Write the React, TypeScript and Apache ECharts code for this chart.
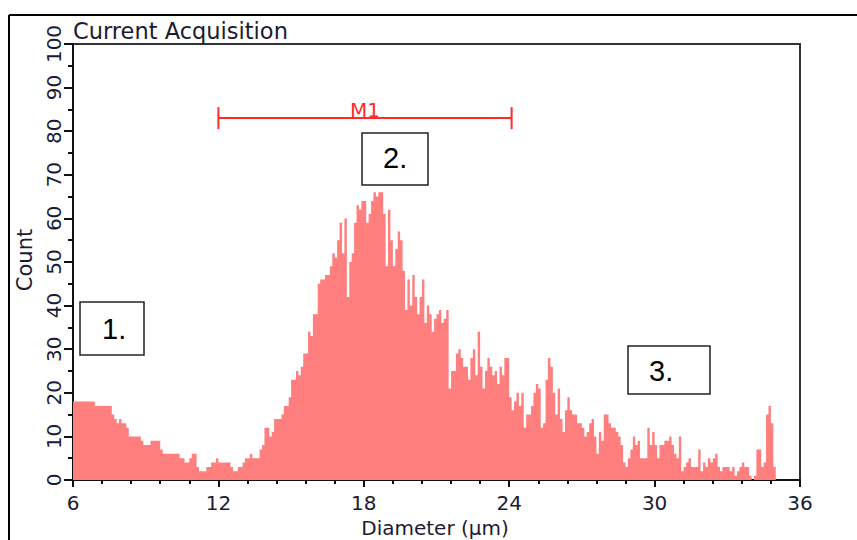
import React, { useEffect, useRef } from "react";
import * as echarts from "echarts";

// Histogram bins (diameter, µm)
const BIN_START = 6;
const BIN_WIDTH = 0.1;
const counts: number[] = [
  18, 18, 18, 18, 18, 18, 18, 18, 18,
  17, 17, 17, 17, 17, 17, 17,
  15, 14, 13, 14, 13, 13, 12,
  10, 10, 10, 10, 10,
  9, 8, 8, 8,
  9, 9, 9, 9, 7, 6,
  6, 6, 6, 6, 6, 6,
  5, 5, 4, 4, 5, 6, 6,
  3, 2, 2, 2, 3, 3,
  4, 4, 5, 4, 4, 4, 4, 4,
  3, 2, 2, 3, 3, 4, 5, 5,
  6, 5, 5, 5, 7, 8,
  12, 12, 10, 11, 14, 14, 14, 15, 17, 17,
  19, 23, 23, 25, 24, 26, 29, 29, 34, 33,
  38, 38, 45, 46, 46, 47, 47, 49, 52, 51,
  55, 59, 52, 60, 42, 50, 52, 59, 63, 62,
  64, 64, 59, 61, 64, 66, 65, 66, 66, 61,
  49, 62, 55, 49, 53, 57, 55, 48, 39, 46,
  40, 47, 42, 38, 42, 46, 36, 40, 38, 34,
  37, 38, 39, 36, 37, 39, 21, 25, 25, 29,
  30, 28, 26, 26, 23, 28, 30, 24, 34, 26,
  21, 25, 28, 26, 24, 25, 22, 26, 24, 28,
  28, 19, 16, 18, 20, 17, 20, 12, 15, 15,
  17, 20, 22, 21, 12, 13, 23, 28, 26, 20,
  15, 21, 14, 11, 16, 19, 16, 15, 15, 13,
  13, 12, 10, 11, 13, 14, 10, 6, 11, 9,
  15, 15, 13, 12, 12, 11, 10, 8, 4, 3,
  5, 7, 10, 8, 9, 5, 5, 5, 12, 8,
  11, 8, 5, 8, 8, 9, 9, 10, 8, 6,
  5, 10, 2, 3, 4, 5, 3, 3, 3, 7,
  2, 4, 3, 5, 4, 5, 6, 3, 2, 3,
  3, 3, 2, 3, 1, 2, 3, 4, 3, 3,
  1, 0, 1, 7, 7, 3, 4, 15, 17, 13, 3,
];

// Axes
const xMin = 6;
const xMax = 36;
const xInterval = 6;
const yMin = 0;
const yMax = 100;
const yInterval = 10;

// Gate marker M1
const gateLabel = "M1";
const gateFrom = 12;
const gateTo = 24.1;
const gateLevel = 83;

const titleText = "Current Acquisition";
const xName = "Diameter (µm)";
const yName = "Count";
const regionLabels = ["1.", "2.", "3."];

const FONT = "DejaVu Sans";
const TEXT_COLOR = "#1b1b33";

export default function App() {
  const ref = useRef<HTMLDivElement>(null);

  useEffect(() => {
    if (!ref.current) return;
    const chart = echarts.init(ref.current, null, { renderer: "svg" });

    const histData: number[][] = counts.map((c, i) => [BIN_START + i * BIN_WIDTH, c]);
    histData.push([BIN_START + counts.length * BIN_WIDTH, counts[counts.length - 1]]);

    const boxes = [
      { x: 80, y: 302, w: 64, h: 53, tx: 102, ty: 329 },
      { x: 362, y: 133, w: 66, h: 52, tx: 383, ty: 158 },
      { x: 628, y: 346, w: 82, h: 48, tx: 649, ty: 371 },
    ];

    const graphics: any[] = [
      {
        type: "line",
        shape: { x1: 9, y1: 15, x2: 9, y2: 540 },
        style: { stroke: "#000", lineWidth: 2 },
      },
      {
        type: "line",
        shape: { x1: 9, y1: 15, x2: 857, y2: 15 },
        style: { stroke: "#000", lineWidth: 2 },
      },
      {
        type: "text",
        x: 73,
        y: 31,
        style: {
          text: titleText,
          fontSize: 22.5,
          fontFamily: FONT,
          fill: TEXT_COLOR,
          align: "left",
          verticalAlign: "middle",
          textAlign: "left",
          textVerticalAlign: "middle",
        },
      },
      {
        type: "text",
        x: 25,
        y: 260,
        rotation: Math.PI / 2,
        style: {
          text: yName,
          fontSize: 21,
          fontFamily: FONT,
          fill: TEXT_COLOR,
          align: "center",
          verticalAlign: "middle",
          textAlign: "center",
          textVerticalAlign: "middle",
        },
      },
      {
        type: "text",
        x: 435,
        y: 528,
        style: {
          text: xName,
          fontSize: 20,
          fontFamily: FONT,
          fill: TEXT_COLOR,
          align: "center",
          verticalAlign: "middle",
          textAlign: "center",
          textVerticalAlign: "middle",
        },
      },
    ];

    boxes.forEach((b, i) => {
      graphics.push({
        type: "rect",
        shape: { x: b.x, y: b.y, width: b.w, height: b.h },
        style: { fill: "#fff", stroke: "#222", lineWidth: 1.5 },
        z: 10,
      });
      graphics.push({
        type: "text",
        x: b.tx,
        y: b.ty,
        z: 11,
        style: {
          text: regionLabels[i],
          fontSize: 29,
          fontFamily: "Liberation Sans",
          fill: "#000",
          align: "left",
          verticalAlign: "middle",
          textAlign: "left",
          textVerticalAlign: "middle",
        },
      });
    });

    chart.setOption({
      animation: false,
      backgroundColor: "#fff",
      grid: {
        left: 73,
        top: 44,
        right: 57,
        bottom: 60,
        show: true,
        borderColor: "#333",
        borderWidth: 2,
        backgroundColor: "transparent",
      },
      xAxis: {
        type: "value",
        min: xMin,
        max: xMax,
        interval: xInterval,
        splitLine: { show: false },
        axisLine: { show: true, onZero: false, lineStyle: { color: "#111", width: 2 } },
        axisTick: { show: true, inside: false, length: 7, lineStyle: { color: "#111", width: 2 } },
        minorTick: { show: true, splitNumber: 5, length: 4, lineStyle: { color: "#111", width: 2 } },
        axisLabel: {
          margin: 13,
          fontSize: 20,
          fontFamily: FONT,
          color: TEXT_COLOR,
        },
      },
      yAxis: {
        type: "value",
        min: yMin,
        max: yMax,
        interval: yInterval,
        splitLine: { show: false },
        axisLine: { show: true, onZero: false, lineStyle: { color: "#111", width: 2 } },
        axisTick: { show: true, inside: false, length: 9, lineStyle: { color: "#111", width: 2 } },
        minorTick: { show: true, splitNumber: 2, length: 5, lineStyle: { color: "#111", width: 2 } },
        axisLabel: {
          rotate: 90,
          margin: 9,
          fontSize: 20,
          fontFamily: FONT,
          color: TEXT_COLOR,
        },
      },
      series: [
        {
          type: "line",
          step: "end",
          data: histData,
          symbol: "none",
          lineStyle: { width: 0, color: "#ff7f7f" },
          areaStyle: { color: "#ff7f7f", opacity: 1 },
          itemStyle: { color: "#ff7f7f" },
          silent: true,
          z: 2,
        },
        {
          type: "custom",
          data: [[gateFrom, gateTo, gateLevel]],
          clip: false,
          z: 5,
          renderItem: (params: any, api: any) => {
            const p1 = api.coord([api.value(0), api.value(2)]);
            const p2 = api.coord([api.value(1), api.value(2)]);
            const cap = 11;
            const stroke = { stroke: "#ff2a2a", lineWidth: 2 };
            return {
              type: "group",
              children: [
                { type: "line", shape: { x1: p1[0], y1: p1[1], x2: p2[0], y2: p2[1] }, style: stroke },
                { type: "line", shape: { x1: p1[0], y1: p1[1] - cap, x2: p1[0], y2: p1[1] + cap }, style: stroke },
                { type: "line", shape: { x1: p2[0], y1: p2[1] - cap, x2: p2[0], y2: p2[1] + cap }, style: stroke },
                {
                  type: "text",
                  x: (p1[0] + p2[0]) / 2,
                  y: p1[1] - 8,
                  style: {
                    text: gateLabel,
                    fontSize: 20,
                    fontFamily: FONT,
                    fill: "#ff2a2a",
                    align: "center",
                    verticalAlign: "middle",
                    textAlign: "center",
                    textVerticalAlign: "middle",
                  },
                },
              ],
            };
          },
        },
      ],
      graphic: graphics,
    });

    return () => {
      chart.dispose();
    };
  }, []);

  return (
    <div
      ref={ref}
      style={{ position: "fixed", left: 0, top: 0, width: 857, height: 540 }}
    />
  );
}
